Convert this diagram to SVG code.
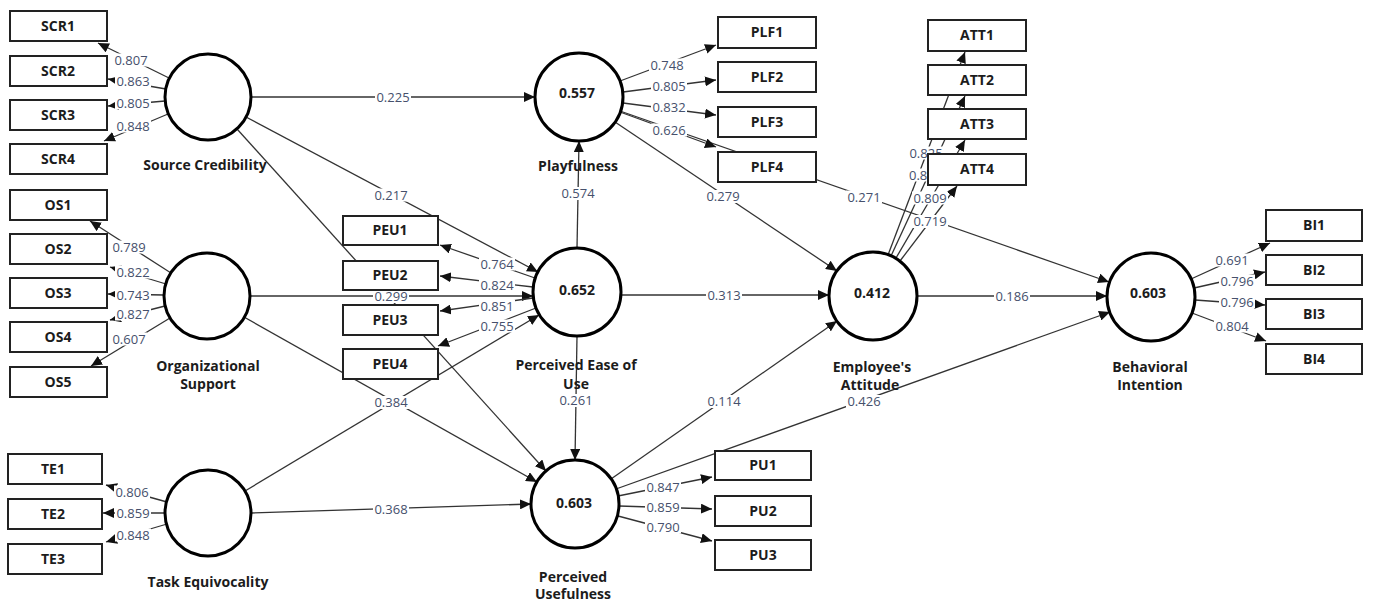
<svg xmlns="http://www.w3.org/2000/svg" width="1373" height="603" viewBox="0 0 1373 603">
  <defs>
    <marker id="ah" markerUnits="userSpaceOnUse" markerWidth="11" markerHeight="10" refX="11" refY="5" orient="auto">
      <path d="M0,0 L11,5 L0,10 z" fill="#111"/>
    </marker>
    <style>
      .ln { stroke:#333; stroke-width:1.3; fill:none; marker-end:url(#ah); }
      .bg { fill:#fff; }
      .lv { font-family:"Open Sans","Noto Sans",sans-serif; font-size:13px; fill:#46506c; text-anchor:middle; }
      .lat { fill:#fff; stroke:#000; stroke-width:3; }
      .ind { fill:#fff; stroke:#222; stroke-width:2; }
      .nm { font-family:"Open Sans","Noto Sans",sans-serif; font-size:14px; font-weight:bold; fill:#1c1c1c; text-anchor:middle; }
    </style>
  </defs>
  <rect width="1373" height="603" fill="#fff"/>

  <g id="connectors">
    <!-- structural paths -->
    <line class="ln" x1="251" y1="97" x2="535" y2="97"/>
    <line class="ln" x1="246" y1="117" x2="538" y2="272"/>
    <line class="ln" x1="237" y1="129" x2="546" y2="471"/>
    <line class="ln" x1="250" y1="296" x2="533" y2="296"/>
    <line class="ln" x1="244" y1="317" x2="537" y2="482"/>
    <line class="ln" x1="245" y1="491" x2="539" y2="315"/>
    <line class="ln" x1="251" y1="513" x2="531" y2="504"/>
    <line class="ln" x1="577" y1="248" x2="579" y2="141"/>
    <line class="ln" x1="577" y1="336" x2="575" y2="460"/>
    <line class="ln" x1="621" y1="295" x2="829" y2="295"/>
    <line class="ln" x1="615" y1="122" x2="837" y2="271"/>
    <line class="ln" x1="620" y1="111" x2="1109" y2="282"/>
    <line class="ln" x1="611" y1="479" x2="837" y2="321"/>
    <line class="ln" x1="616" y1="489" x2="1110" y2="312"/>
    <line class="ln" x1="917" y1="296" x2="1107" y2="296"/>

    <!-- measurement paths -->
    <line class="ln" x1="169" y1="78" x2="98" y2="43"/>
    <line class="ln" x1="166" y1="89" x2="108" y2="79"/>
    <line class="ln" x1="165" y1="101" x2="108" y2="106"/>
    <line class="ln" x1="168" y1="114" x2="104" y2="141"/>

    <line class="ln" x1="171" y1="273" x2="90" y2="221"/>
    <line class="ln" x1="166" y1="284" x2="110" y2="267"/>
    <line class="ln" x1="164" y1="295" x2="108" y2="294"/>
    <line class="ln" x1="165" y1="306" x2="110" y2="320"/>
    <line class="ln" x1="170" y1="318" x2="91" y2="366"/>

    <line class="ln" x1="167" y1="502" x2="106" y2="485"/>
    <line class="ln" x1="165" y1="513" x2="103" y2="513"/>
    <line class="ln" x1="167" y1="524" x2="106" y2="542"/>

    <line class="ln" x1="535" y1="278" x2="440" y2="245"/>
    <line class="ln" x1="533" y1="287" x2="440" y2="276"/>
    <line class="ln" x1="533" y1="298" x2="440" y2="311"/>
    <line class="ln" x1="536" y1="308" x2="438" y2="346"/>

    <line class="ln" x1="620" y1="81" x2="716" y2="45"/>
    <line class="ln" x1="623" y1="92" x2="716" y2="80"/>
    <line class="ln" x1="623" y1="103" x2="716" y2="115"/>
    <line class="ln" x1="620" y1="112" x2="716" y2="147"/>

    <line class="ln" x1="888" y1="255" x2="965" y2="52"/>
    <line class="ln" x1="891" y1="256" x2="965" y2="96"/>
    <line class="ln" x1="896" y1="258" x2="965" y2="140"/>
    <line class="ln" x1="900" y1="261" x2="957" y2="186"/>

    <line class="ln" x1="618" y1="496" x2="712" y2="477"/>
    <line class="ln" x1="619" y1="506" x2="712" y2="509"/>
    <line class="ln" x1="618" y1="516" x2="712" y2="541"/>

    <line class="ln" x1="1191" y1="279" x2="1270" y2="243"/>
    <line class="ln" x1="1194" y1="288" x2="1265" y2="272"/>
    <line class="ln" x1="1195" y1="300" x2="1265" y2="305"/>
    <line class="ln" x1="1192" y1="313" x2="1266" y2="341"/>

    <!-- label backgrounds -->
    <g class="bg">
      <rect x="375" y="90.5" width="36" height="13"/>
      <rect x="373" y="188.5" width="36" height="13"/>
      <rect x="373" y="290" width="36" height="13"/>
      <rect x="373" y="396" width="36" height="13"/>
      <rect x="373" y="503" width="36" height="13"/>
      <rect x="560" y="187" width="36" height="13"/>
      <rect x="558" y="394" width="36" height="13"/>
      <rect x="706" y="289" width="36" height="13"/>
      <rect x="705" y="190" width="36" height="13"/>
      <rect x="846" y="190.5" width="36" height="13"/>
      <rect x="706" y="395" width="36" height="13"/>
      <rect x="846" y="395" width="36" height="13"/>
      <rect x="994" y="289.5" width="36" height="13"/>

      <rect x="113" y="53.5" width="36" height="13"/>
      <rect x="115" y="74.5" width="36" height="13"/>
      <rect x="115" y="96.5" width="36" height="13"/>
      <rect x="115" y="119.5" width="36" height="13"/>
      <rect x="111" y="240.5" width="36" height="13"/>
      <rect x="115" y="265.5" width="36" height="13"/>
      <rect x="115" y="288.5" width="36" height="13"/>
      <rect x="115" y="307.5" width="36" height="13"/>
      <rect x="111" y="332.5" width="36" height="13"/>
      <rect x="114" y="485.5" width="36" height="13"/>
      <rect x="115" y="506.5" width="36" height="13"/>
      <rect x="115" y="528.5" width="36" height="13"/>
      <rect x="479" y="257.5" width="36" height="13"/>
      <rect x="479" y="278.5" width="36" height="13"/>
      <rect x="479" y="299.5" width="36" height="13"/>
      <rect x="479" y="319.5" width="36" height="13"/>
      <rect x="649" y="58.5" width="36" height="13"/>
      <rect x="651" y="79.5" width="36" height="13"/>
      <rect x="651" y="100.5" width="36" height="13"/>
      <rect x="651" y="123.5" width="36" height="13"/>
      <rect x="908" y="146.5" width="36" height="13"/>
      <rect x="907" y="168.5" width="21" height="13"/>
      <rect x="912" y="191.5" width="36" height="13"/>
      <rect x="912" y="215" width="36" height="13"/>
      <rect x="645" y="480.5" width="36" height="13"/>
      <rect x="645" y="500.5" width="36" height="13"/>
      <rect x="645" y="520.5" width="36" height="13"/>
      <rect x="1214" y="253.5" width="36" height="13"/>
      <rect x="1219" y="274.5" width="36" height="13"/>
      <rect x="1219" y="295.5" width="36" height="13"/>
      <rect x="1214" y="319.5" width="36" height="13"/>
    </g>

    <!-- path coefficients -->
    <text class="lv" x="393" y="101.5">0.225</text>
    <text class="lv" x="391" y="199.5">0.217</text>
    <text class="lv" x="391" y="301">0.299</text>
    <text class="lv" x="391" y="407">0.384</text>
    <text class="lv" x="391" y="514">0.368</text>
    <text class="lv" x="578" y="198">0.574</text>
    <text class="lv" x="576" y="405">0.261</text>
    <text class="lv" x="724" y="300">0.313</text>
    <text class="lv" x="723" y="201">0.279</text>
    <text class="lv" x="864" y="201.5">0.271</text>
    <text class="lv" x="724" y="406">0.114</text>
    <text class="lv" x="864" y="406">0.426</text>
    <text class="lv" x="1012" y="300.5">0.186</text>

    <!-- outer loadings -->
    <text class="lv" x="131" y="64.5">0.807</text>
    <text class="lv" x="133" y="85.5">0.863</text>
    <text class="lv" x="133" y="107.5">0.805</text>
    <text class="lv" x="133" y="130.5">0.848</text>

    <text class="lv" x="129" y="251.5">0.789</text>
    <text class="lv" x="133" y="276.5">0.822</text>
    <text class="lv" x="133" y="299.5">0.743</text>
    <text class="lv" x="133" y="318.5">0.827</text>
    <text class="lv" x="129" y="343.5">0.607</text>

    <text class="lv" x="132" y="496.5">0.806</text>
    <text class="lv" x="133" y="517.5">0.859</text>
    <text class="lv" x="133" y="539.5">0.848</text>

    <text class="lv" x="497" y="268.5">0.764</text>
    <text class="lv" x="497" y="289.5">0.824</text>
    <text class="lv" x="497" y="310.5">0.851</text>
    <text class="lv" x="497" y="330.5">0.755</text>

    <text class="lv" x="667" y="69.5">0.748</text>
    <text class="lv" x="669" y="90.5">0.805</text>
    <text class="lv" x="669" y="111.5">0.832</text>
    <text class="lv" x="669" y="134.5">0.626</text>

    <text class="lv" x="926" y="157.5">0.825</text>
    <text class="lv" x="909" y="179.5" style="text-anchor:start">0.8</text>
    <text class="lv" x="930" y="202.5">0.809</text>
    <text class="lv" x="930" y="226">0.719</text>

    <text class="lv" x="663" y="491.5">0.847</text>
    <text class="lv" x="663" y="511.5">0.859</text>
    <text class="lv" x="663" y="531.5">0.790</text>

    <text class="lv" x="1232" y="264.5">0.691</text>
    <text class="lv" x="1237" y="285.5">0.796</text>
    <text class="lv" x="1237" y="306.5">0.796</text>
    <text class="lv" x="1232" y="330.5">0.804</text>
  </g>

  <!-- latent constructs -->
  <g id="source-credibility">
    <circle class="lat" cx="208" cy="97" r="43"/>
    <text class="nm" x="205" y="170">Source Credibility</text>
  </g>
  <g id="organizational-support">
    <circle class="lat" cx="207" cy="296" r="43"/>
    <text class="nm" x="208" y="371">Organizational</text>
    <text class="nm" x="208" y="389">Support</text>
  </g>
  <g id="task-equivocality">
    <circle class="lat" cx="208" cy="513" r="43"/>
    <text class="nm" x="208" y="587">Task Equivocality</text>
  </g>
  <g id="playfulness">
    <circle class="lat" cx="579" cy="97" r="44"/>
    <text class="nm" x="577" y="98">0.557</text>
    <text class="nm" x="578" y="171">Playfulness</text>
  </g>
  <g id="perceived-ease-of-use">
    <circle class="lat" cx="577" cy="292" r="44"/>
    <text class="nm" x="577" y="295">0.652</text>
    <text class="nm" x="576" y="370">Perceived Ease of</text>
    <text class="nm" x="576" y="389">Use</text>
  </g>
  <g id="perceived-usefulness">
    <circle class="lat" cx="575" cy="504" r="44"/>
    <text class="nm" x="574" y="508">0.603</text>
    <text class="nm" x="573" y="582">Perceived</text>
    <text class="nm" x="573" y="599">Usefulness</text>
  </g>
  <g id="employees-attitude">
    <circle class="lat" cx="873" cy="296" r="44"/>
    <text class="nm" x="872" y="298">0.412</text>
    <text class="nm" x="872" y="372">Employee's</text>
    <text class="nm" x="870" y="390">Attitude</text>
  </g>
  <g id="behavioral-intention">
    <circle class="lat" cx="1151" cy="297" r="44"/>
    <text class="nm" x="1148" y="298">0.603</text>
    <text class="nm" x="1150" y="372">Behavioral</text>
    <text class="nm" x="1150" y="390">Intention</text>
  </g>

  <!-- indicators -->
  <g id="SCR1"><rect class="ind" x="10" y="11" width="97" height="30"/><text class="nm" x="58" y="31">SCR1</text></g>
  <g id="SCR2"><rect class="ind" x="10" y="56" width="97" height="30"/><text class="nm" x="58" y="76">SCR2</text></g>
  <g id="SCR3"><rect class="ind" x="10" y="100" width="97" height="30"/><text class="nm" x="58" y="120">SCR3</text></g>
  <g id="SCR4"><rect class="ind" x="10" y="144" width="97" height="30"/><text class="nm" x="58" y="164">SCR4</text></g>

  <g id="OS1"><rect class="ind" x="10" y="190" width="97" height="30"/><text class="nm" x="58" y="210">OS1</text></g>
  <g id="OS2"><rect class="ind" x="10" y="234" width="97" height="30"/><text class="nm" x="58" y="254">OS2</text></g>
  <g id="OS3"><rect class="ind" x="10" y="278" width="97" height="30"/><text class="nm" x="58" y="298">OS3</text></g>
  <g id="OS4"><rect class="ind" x="10" y="322" width="97" height="30"/><text class="nm" x="58" y="342">OS4</text></g>
  <g id="OS5"><rect class="ind" x="10" y="367" width="97" height="30"/><text class="nm" x="58" y="387">OS5</text></g>

  <g id="TE1"><rect class="ind" x="8" y="454" width="94" height="30"/><text class="nm" x="53" y="474">TE1</text></g>
  <g id="TE2"><rect class="ind" x="8" y="499" width="94" height="30"/><text class="nm" x="53" y="519">TE2</text></g>
  <g id="TE3"><rect class="ind" x="8" y="544" width="94" height="30"/><text class="nm" x="53" y="564">TE3</text></g>

  <g id="PEU1"><rect class="ind" x="343" y="216" width="95" height="29"/><text class="nm" x="390" y="235">PEU1</text></g>
  <g id="PEU2"><rect class="ind" x="343" y="261" width="95" height="29"/><text class="nm" x="390" y="280">PEU2</text></g>
  <g id="PEU3"><rect class="ind" x="343" y="305" width="95" height="30"/><text class="nm" x="390" y="325">PEU3</text></g>
  <g id="PEU4"><rect class="ind" x="343" y="349" width="95" height="30"/><text class="nm" x="390" y="369">PEU4</text></g>

  <g id="PLF1"><rect class="ind" x="718" y="17" width="98" height="31"/><text class="nm" x="767" y="37">PLF1</text></g>
  <g id="PLF2"><rect class="ind" x="718" y="62" width="98" height="30"/><text class="nm" x="767" y="82">PLF2</text></g>
  <g id="PLF3"><rect class="ind" x="718" y="107" width="98" height="30"/><text class="nm" x="767" y="127">PLF3</text></g>
  <g id="PLF4"><rect class="ind" x="718" y="152" width="98" height="30"/><text class="nm" x="767" y="172">PLF4</text></g>

  <g id="ATT1"><rect class="ind" x="928" y="20" width="98" height="31"/><text class="nm" x="977" y="40">ATT1</text></g>
  <g id="ATT2"><rect class="ind" x="928" y="65" width="98" height="30"/><text class="nm" x="977" y="85">ATT2</text></g>
  <g id="ATT3"><rect class="ind" x="928" y="109" width="98" height="30"/><text class="nm" x="977" y="129">ATT3</text></g>
  <g id="ATT4"><rect class="ind" x="928" y="154" width="98" height="31"/><text class="nm" x="977" y="174">ATT4</text></g>

  <g id="PU1"><rect class="ind" x="715" y="451" width="96" height="29"/><text class="nm" x="763" y="470">PU1</text></g>
  <g id="PU2"><rect class="ind" x="715" y="496" width="96" height="30"/><text class="nm" x="763" y="516">PU2</text></g>
  <g id="PU3"><rect class="ind" x="715" y="540" width="96" height="30"/><text class="nm" x="763" y="560">PU3</text></g>

  <g id="BI1"><rect class="ind" x="1266" y="210" width="96" height="31"/><text class="nm" x="1314" y="230">BI1</text></g>
  <g id="BI2"><rect class="ind" x="1266" y="255" width="96" height="30"/><text class="nm" x="1314" y="275">BI2</text></g>
  <g id="BI3"><rect class="ind" x="1266" y="299" width="96" height="30"/><text class="nm" x="1314" y="319">BI3</text></g>
  <g id="BI4"><rect class="ind" x="1266" y="344" width="96" height="30"/><text class="nm" x="1314" y="364">BI4</text></g>
</svg>
